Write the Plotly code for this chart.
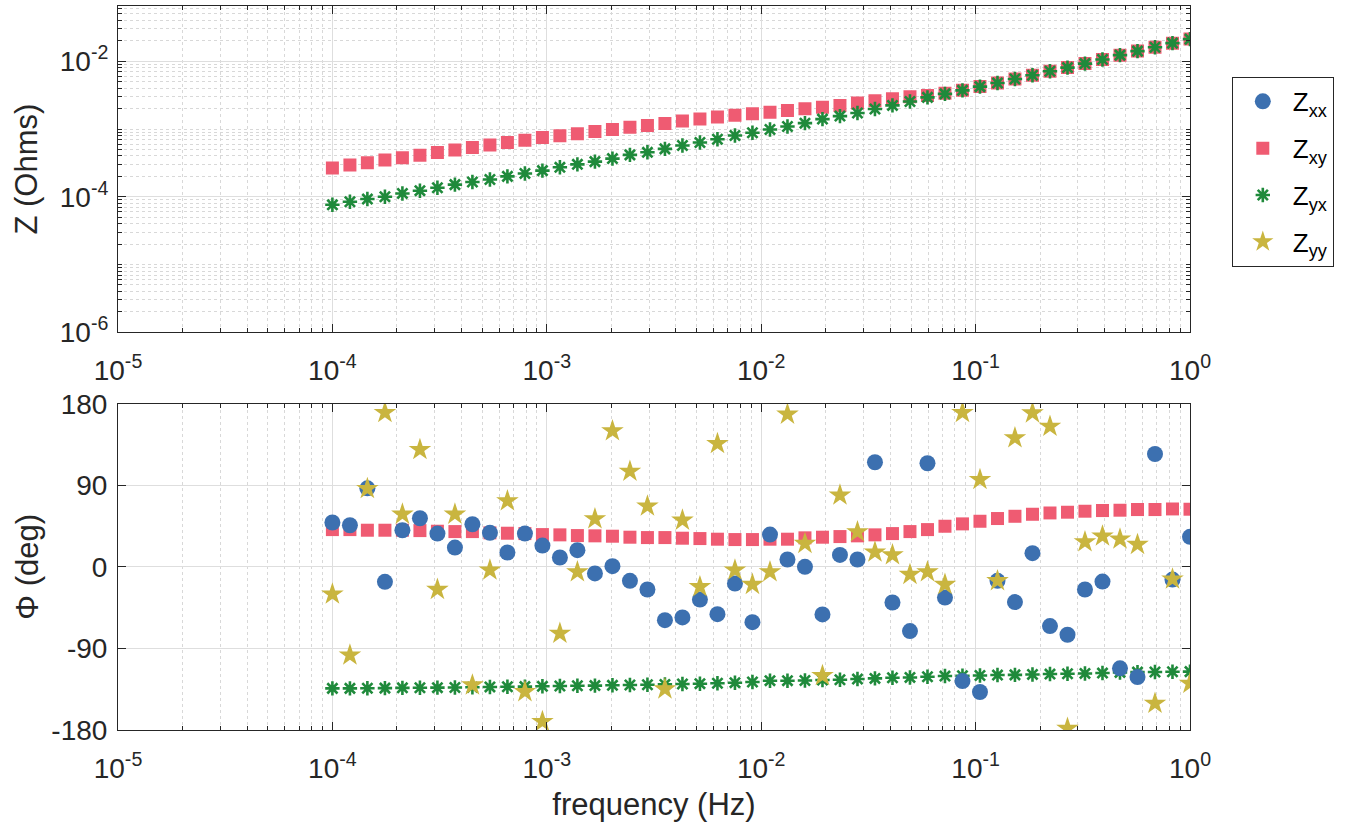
import plotly.graph_objects as go
from plotly.subplots import make_subplots

# ---------------- data ----------------
freq = [1.000e-4, 1.207e-4, 1.456e-4, 1.758e-4, 2.121e-4, 2.560e-4, 3.089e-4, 3.728e-4, 4.498e-4, 5.429e-4,
        6.551e-4, 7.906e-4, 9.541e-4, 1.151e-3, 1.389e-3, 1.677e-3, 2.024e-3, 2.442e-3, 2.947e-3, 3.556e-3,
        4.292e-3, 5.179e-3, 6.251e-3, 7.543e-3, 9.103e-3, 1.099e-2, 1.326e-2, 1.600e-2, 1.931e-2, 2.330e-2,
        2.812e-2, 3.393e-2, 4.095e-2, 4.942e-2, 5.964e-2, 7.197e-2, 8.685e-2, 0.1048, 0.1265, 0.1526,
        0.1842, 0.2223, 0.2683, 0.3237, 0.3907, 0.4715, 0.5690, 0.6866, 0.8286, 1.0]

z_xy = [2.66e-4, 2.95e-4, 3.19e-4, 3.50e-4, 3.78e-4, 4.09e-4, 4.49e-4, 4.92e-4, 5.32e-4, 5.83e-4,
        6.31e-4, 6.82e-4, 7.48e-4, 7.93e-4, 8.49e-4, 9.18e-4, 9.84e-4, 1.06e-3, 1.13e-3, 1.21e-3,
        1.31e-3, 1.40e-3, 1.50e-3, 1.60e-3, 1.68e-3, 1.77e-3, 1.88e-3, 1.99e-3, 2.10e-3, 2.23e-3,
        2.41e-3, 2.62e-3, 2.80e-3, 2.98e-3, 3.12e-3, 3.36e-3, 3.72e-3, 4.22e-3, 4.77e-3, 5.47e-3,
        6.21e-3, 7.11e-3, 8.06e-3, 9.23e-3, 1.06e-2, 1.23e-2, 1.41e-2, 1.61e-2, 1.85e-2, 2.12e-2]

z_yx = [7.61e-5, 8.43e-5, 9.25e-5, 1.00e-4, 1.12e-4, 1.23e-4, 1.36e-4, 1.51e-4, 1.65e-4, 1.80e-4,
        2.00e-4, 2.21e-4, 2.43e-4, 2.72e-4, 3.01e-4, 3.30e-4, 3.66e-4, 4.15e-4, 4.53e-4, 5.09e-4,
        5.70e-4, 6.31e-4, 7.06e-4, 8.01e-4, 8.80e-4, 9.84e-4, 1.09e-3, 1.22e-3, 1.40e-3, 1.55e-3,
        1.72e-3, 1.97e-3, 2.23e-3, 2.55e-3, 2.93e-3, 3.30e-3, 3.72e-3, 4.22e-3, 4.77e-3, 5.47e-3,
        6.21e-3, 7.11e-3, 8.06e-3, 9.23e-3, 1.06e-2, 1.23e-2, 1.41e-2, 1.61e-2, 1.85e-2, 2.12e-2]

phi_xx = [48.9, 45.9, 86.6, -16.5, 40.4, 53.6, 36.7, 21.3, 47.0, 37.5,
          15.8, 36.7, 23.5, 10.3, 18.4, -7.3, 0.7, -15.4, -25.0, -58.8,
          -55.8, -36.0, -52.2, -18.4, -61.0, 35.6, 8.1, 0.0, -52.5, 13.2,
          8.1, 115.4, -39.3, -70.9, 114.3, -33.8, -126.0, -138.1, -15.4, -38.9,
          15.1, -65.4, -74.9, -25.0, -16.2, -112.0, -121.6, 124.5, -14.0, 33.1]

phi_xy = [41.1, 41.1, 40.4, 40.4, 40.4, 40.0, 39.3, 38.9, 38.9, 37.5,
          37.1, 36.7, 35.6, 35.3, 34.5, 34.2, 33.8, 32.7, 32.3, 32.3,
          31.6, 31.2, 30.5, 30.1, 30.1, 30.5, 30.5, 32.0, 32.7, 33.4,
          34.2, 35.3, 36.7, 38.9, 41.1, 44.8, 47.4, 50.3, 53.3, 55.8,
          58.0, 59.5, 60.3, 61.4, 62.1, 62.5, 63.2, 63.2, 63.9, 63.6]

phi_yx = [-134.1, -134.1, -134.0, -133.8, -133.5, -133.4, -133.3, -133.1, -132.9, -132.5,
          -132.3, -132.1, -131.8, -131.4, -131.2, -131.0, -130.7, -130.4, -130.1, -129.7,
          -129.3, -128.9, -128.4, -127.8, -127.0, -125.6, -125.6, -125.4, -124.9, -124.6,
          -123.8, -123.1, -122.4, -122.0, -121.2, -120.5, -120.1, -119.9, -119.4, -119.2,
          -118.7, -118.3, -118.0, -117.6, -117.2, -116.5, -116.1, -116.0, -115.7, -115.6]

phi_yy = [-30.1, -97.4, 86.3, 170.1, 58.0, 129.3, -25.0, 58.0, -130.4, -3.7,
          72.7, -137.8, -170.8, -73.5, -5.5, 52.9, 149.9, 105.4, 66.9, -134.8,
          51.4, -22.0, 135.9, -3.7, -19.5, -5.5, 168.3, 25.7, -120.1, 79.0,
          38.6, 16.2, 13.2, -8.5, -5.5, -19.5, 170.1, 96.3, -15.4, 142.2,
          169.7, 155.0, -178.2, 27.6, 33.8, 30.5, 24.6, -150.6, -13.6, -128.6]

names = ["Z<sub>xx</sub>", "Z<sub>xy</sub>", "Z<sub>yx</sub>", "Z<sub>yy</sub>"]

x_tickvals = [1e-5, 1e-4, 1e-3, 1e-2, 1e-1, 1]
x_ticktext = ["10<sup>-5</sup>", "10<sup>-4</sup>", "10<sup>-3</sup>", "10<sup>-2</sup>", "10<sup>-1</sup>", "10<sup>0</sup>"]
z_tickvals = [1e-6, 1e-4, 1e-2]
z_ticktext = ["10<sup>-6</sup>", "10<sup>-4</sup>", "10<sup>-2</sup>"]
p_tickvals = [-180, -90, 0, 90, 180]
p_ticktext = ["-180", "-90", "0", "90", "180"]

# ---------------- styles ----------------
C_XX = "#3c70b0"
C_XY = "#ef5b72"
C_YX = "#1f8a3b"
C_YY = "#c9b53f"
AX = "#262626"
FONT = "Liberation Sans, Arial, Helvetica, sans-serif"
TICK_SIZE = 28
TITLE_SIZE = 31

styles = {
    "xx": dict(symbol="circle", size=16, color=C_XX, line=dict(width=0)),
    "xy": dict(symbol="square", size=13, color=C_XY, line=dict(width=0)),
    "yx": dict(symbol="asterisk-open", size=12, color=C_YX, line=dict(width=2.6, color=C_YX)),
    "yy": dict(symbol="star", size=17, color=C_YY, line=dict(width=0)),
}

fig = make_subplots(rows=2, cols=1, vertical_spacing=0.0986)

# top panel: magnitudes
fig.add_trace(go.Scatter(x=freq, y=z_xy, mode="markers", marker=styles["xy"], name=names[1],
                         showlegend=False, legendgroup="xy"), row=1, col=1)
fig.add_trace(go.Scatter(x=freq, y=z_yx, mode="markers", marker=styles["yx"], name=names[2],
                         showlegend=False, legendgroup="yx"), row=1, col=1)

# bottom panel: phases
fig.add_trace(go.Scatter(x=freq, y=phi_xy, mode="markers", marker=styles["xy"], name=names[1],
                         legendgroup="xy", legendrank=2), row=2, col=1)
fig.add_trace(go.Scatter(x=freq, y=phi_yx, mode="markers", marker=styles["yx"], name=names[2],
                         legendgroup="yx", legendrank=3), row=2, col=1)
fig.add_trace(go.Scatter(x=freq, y=phi_xx, mode="markers", marker=styles["xx"], name=names[0],
                         legendgroup="xx", legendrank=1), row=2, col=1)
fig.add_trace(go.Scatter(x=freq, y=phi_yy, mode="markers", marker=styles["yy"], name=names[3],
                         legendgroup="yy", legendrank=4), row=2, col=1)

common_x = dict(
    type="log", range=[-5, 0], tickmode="array", tickvals=x_tickvals, ticktext=x_ticktext,
    showline=True, linecolor=AX, linewidth=1, mirror="ticks",
    ticks="inside", ticklen=8, tickcolor=AX, tickwidth=1,
    showgrid=True, gridcolor="#dedede", gridwidth=1,
    minor=dict(dtick="D1", ticks="inside", ticklen=4, tickcolor=AX, showgrid=True,
               gridcolor="#d8d8d8", griddash="dot", gridwidth=1),
    tickfont=dict(size=TICK_SIZE, color=AX, family=FONT), zeroline=False,
    ticklabelstandoff=13,
)
fig.update_xaxes(**common_x, row=1, col=1)
fig.update_xaxes(**common_x, row=2, col=1)
fig.update_xaxes(title=dict(text="frequency (Hz)", font=dict(size=TITLE_SIZE, color=AX, family=FONT),
                            standoff=10), row=2, col=1)

fig.update_yaxes(
    type="log", range=[-6, -1.185], tickmode="array", tickvals=z_tickvals, ticktext=z_ticktext,
    showline=True, linecolor=AX, linewidth=1, mirror="ticks",
    ticks="inside", ticklen=8, tickcolor=AX,
    showgrid=True, gridcolor="#dedede",
    minor=dict(dtick="D1", ticks="inside", ticklen=4, tickcolor=AX, showgrid=True,
               gridcolor="#d8d8d8", griddash="dot"),
    tickfont=dict(size=TICK_SIZE, color=AX, family=FONT), zeroline=False,
    ticklabelstandoff=3,
    title=dict(text="Z (Ohms)", font=dict(size=TITLE_SIZE, color=AX, family=FONT), standoff=12),
    row=1, col=1)

fig.update_yaxes(
    range=[-180, 180], tickmode="array", tickvals=p_tickvals, ticktext=p_ticktext,
    showline=True, linecolor=AX, linewidth=1, mirror="ticks",
    ticks="inside", ticklen=8, tickcolor=AX,
    showgrid=True, gridcolor="#dedede", zeroline=False,
    tickfont=dict(size=TICK_SIZE, color=AX, family=FONT),
    ticklabelstandoff=4,
    title=dict(text="Φ (deg)", font=dict(size=TITLE_SIZE, color=AX, family=FONT), standoff=3),
    row=2, col=1)

fig.update_layout(
    width=1357, height=826,
    margin=dict(l=118, r=167, t=6, b=96, autoexpand=False),
    paper_bgcolor="white", plot_bgcolor="white",
    font=dict(family=FONT, color=AX),
    legend=dict(x=1.039, y=0.902, xanchor="left", yanchor="top",
                bgcolor="white", bordercolor=AX, borderwidth=1,
                font=dict(size=26, color="black", family=FONT),
                tracegroupgap=10, itemwidth=50, entrywidth=78, entrywidthmode="pixels"),
    showlegend=True,
)

fig.write_html("out.html", config={"displayModeBar": False},
               post_script="document.body.style.margin='0px';")
